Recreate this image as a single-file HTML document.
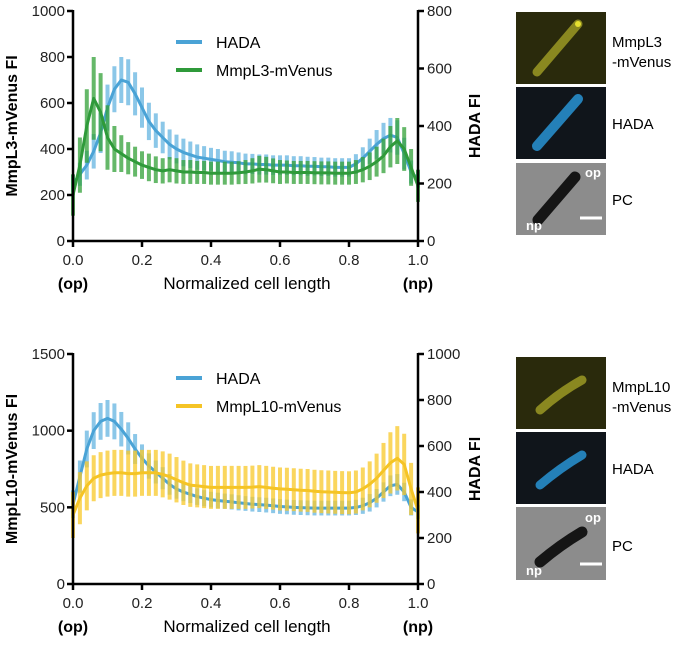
<!DOCTYPE html>
<html><head><meta charset="utf-8"><style>
body{margin:0;background:#fff;font-family:"Liberation Sans",sans-serif}
svg text{font-family:"Liberation Sans",sans-serif}
</style></head><body>
<svg id="fig" width="685" height="642" viewBox="0 0 685 642" xmlns="http://www.w3.org/2000/svg">
<g>
<rect x="516" y="12" width="90" height="72" fill="#2a2a0c"/>
<line x1="537" y1="72" x2="578" y2="24" stroke="#8a8820" stroke-width="9" stroke-linecap="round"/>
<circle cx="578" cy="24" r="3" fill="#e6e030"/>
<rect x="516" y="87" width="90" height="72" fill="#10151b"/>
<line x1="537" y1="146" x2="578" y2="99" stroke="#2480b8" stroke-width="10" stroke-linecap="round"/>
<rect x="516" y="163" width="90" height="72" fill="#8c8c8c"/>
<line x1="538" y1="220" x2="575" y2="177" stroke="#151515" stroke-width="11" stroke-linecap="round"/>
<text x="585" y="177" font-size="13" font-weight="bold" fill="#fff">op</text>
<text x="526" y="230" font-size="13" font-weight="bold" fill="#fff">np</text>
<line x1="580" y1="218" x2="602" y2="218" stroke="#fff" stroke-width="3"/>
<text x="612" y="47" font-size="15">MmpL3</text>
<text x="612" y="67" font-size="15">-mVenus</text>
<text x="612" y="129" font-size="15">HADA</text>
<text x="612" y="205" font-size="15">PC</text>
</g>
<g>
<rect x="516" y="357" width="90" height="72" fill="#2a2a0c"/>
<path d="M540 410 Q560 392 582 380" stroke="#8a8820" stroke-width="9" fill="none" stroke-linecap="round"/>
<rect x="516" y="432" width="90" height="72" fill="#10151b"/>
<path d="M540 485 Q560 468 582 455" stroke="#2480b8" stroke-width="9" fill="none" stroke-linecap="round"/>
<rect x="516" y="507" width="90" height="73" fill="#8c8c8c"/>
<path d="M540 562 Q560 545 582 532" stroke="#151515" stroke-width="11" fill="none" stroke-linecap="round"/>
<text x="585" y="522" font-size="13" font-weight="bold" fill="#fff">op</text>
<text x="526" y="575" font-size="13" font-weight="bold" fill="#fff">np</text>
<line x1="580" y1="564" x2="602" y2="564" stroke="#fff" stroke-width="3"/>
<text x="612" y="392" font-size="15">MmpL10</text>
<text x="612" y="412" font-size="15">-mVenus</text>
<text x="612" y="474" font-size="15">HADA</text>
<text x="612" y="551" font-size="15">PC</text>
</g>
<g id="c1"></g>
<g id="c2"></g>
</svg>
<script>
const xs = [0,.02,.04,.06,.08,.10,.12,.14,.16,.18,.20,.22,.24,.26,.28,.30,.32,.34,.36,.38,.40,.42,.44,.46,.48,.50,.52,.54,.56,.58,.60,.62,.64,.66,.68,.70,.72,.74,.76,.78,.80,.82,.84,.86,.88,.90,.92,.94,.96,.98,1.0];
const mmpl3Mean = [200,330,500,620,560,450,400,380,360,345,330,320,310,305,310,305,300,300,298,298,295,295,295,295,297,300,305,312,310,305,300,300,298,298,298,297,296,296,295,295,295,300,310,325,345,370,410,435,400,320,240];
const mmpl3Err = [90,120,160,180,170,140,100,80,70,65,60,60,58,55,55,55,52,52,50,50,50,50,50,50,50,52,55,58,56,54,52,50,50,50,50,50,50,50,50,50,50,52,55,60,65,75,90,100,95,80,70];
const hada1Mean = [200,232,264,312,376,464,528,560,552,512,464,416,384,360,336,320,308,300,292,288,284,280,276,274,272,268,268,266,266,264,264,264,262,262,260,260,258,258,256,256,256,268,288,312,336,356,368,360,304,240,216];
const hada1Err = [30,40,50,60,70,80,80,80,80,75,70,65,60,55,52,50,48,46,44,42,40,40,38,38,36,36,35,35,35,34,34,34,33,33,33,32,32,32,32,32,32,34,38,44,50,55,60,60,55,40,30];
const mmpl10Mean = [450,560,640,690,710,720,725,725,720,720,725,725,725,715,700,680,660,645,640,635,630,630,630,630,630,630,632,635,630,625,620,618,615,612,610,605,602,600,598,596,595,600,620,650,690,740,790,820,780,620,480];
const mmpl10Err = [150,170,160,150,150,150,150,150,150,150,150,150,150,150,150,148,145,142,140,140,140,140,140,140,140,140,140,140,140,140,140,140,140,140,140,140,140,140,140,140,140,140,140,150,160,180,200,210,200,170,150];
const hada2Mean = [347,467,587,667,707,720,707,673,633,587,547,513,487,460,433,413,400,390,380,373,367,363,360,357,353,350,347,345,343,340,337,335,333,332,331,330,330,330,330,330,330,333,340,353,373,400,427,433,400,333,313];
const hada2Err = [60,70,80,80,80,80,78,75,70,65,60,55,50,48,45,42,40,38,36,35,34,34,33,33,33,32,32,32,32,32,32,32,32,32,32,32,32,32,32,32,32,33,35,38,40,42,45,45,40,35,30];
const xTicks = ["0.0","0.2","0.4","0.6","0.8","1.0"];
const leftTicks1 = [0,200,400,600,800,1000];
const rightTicks1 = [0,200,400,600,800];
const leftTicks2 = [0,500,1000,1500];
const rightTicks2 = [0,200,400,600,800,1000];

const NS="http://www.w3.org/2000/svg";
function mk(p,tag,a){const e=document.createElementNS(NS,tag);for(const k in a)e.setAttribute(k,a[k]);p.appendChild(e);return e;}

function chart(g,cfg){
  const x0=73,x1=418,yT=cfg.top,yB=cfg.bottom;
  const X=v=>x0+v*(x1-x0);
  const YL=v=>yB-v/cfg.lmax*(yB-yT);
  const YR=v=>yB-v/cfg.rmax*(yB-yT);
  function series(mean,err,Y,col,ecol,name){
    const sg=mk(g,'g',{});
    
    
    xs.forEach((xv,i)=>{
      const b=mk(sg,'line',{x1:X(xv),x2:X(xv),y1:Y(mean[i]-err[i]),y2:Y(mean[i]+err[i]),stroke:ecol,'stroke-width':4});
      
      
    });
    const d=xs.map((xv,i)=>(i?'L':'M')+X(xv).toFixed(1)+' '+Y(mean[i]).toFixed(1)).join(' ');
    const l=mk(sg,'path',{d:d,fill:'none',stroke:col,'stroke-width':3,'stroke-linejoin':'round'});
    
    
  }
  series(cfg.hMean,cfg.hErr,YR,'#4aa3d6','rgba(90,175,222,0.7)','hada');
  series(cfg.mMean,cfg.mErr,YL,cfg.col,cfg.ecol,cfg.key);
  const ax=mk(g,'g',{stroke:'#000','stroke-width':2.5});
  
  
  mk(ax,'line',{x1:x0,y1:yT-1,x2:x0,y2:yB+1});
  mk(ax,'line',{x1:x1,y1:yT-1,x2:x1,y2:yB+1});
  mk(ax,'line',{x1:x0,y1:yB,x2:x1,y2:yB});
  xTicks.forEach((t,i)=>{const xv=X(i/(xTicks.length-1));
    mk(ax,'line',{x1:xv,x2:xv,y1:yB,y2:yB+6});
    const tx=mk(g,'text',{x:xv,y:yB+24,'font-size':15,'text-anchor':'middle',fill:'#222'});tx.textContent=t;
    });
  cfg.lt.forEach(t=>{const y=YL(t);mk(ax,'line',{x1:x0-6,x2:x0,y1:y,y2:y});
    const tx=mk(g,'text',{x:x0-8,y:y+5,'font-size':15,'text-anchor':'end',fill:'#222'});tx.textContent=t;
    });
  cfg.rt.forEach(t=>{const y=YR(t);mk(ax,'line',{x1:x1,x2:x1+6,y1:y,y2:y});
    const tx=mk(g,'text',{x:x1+9,y:y+5,'font-size':15,fill:'#222'});tx.textContent=t;
    });
  const cy=(yT+yB)/2;
  let t=mk(g,'text',{x:0,y:0,'font-size':16,'font-weight':'bold','text-anchor':'middle',transform:`translate(17,${cy}) rotate(-90)`});t.textContent=cfg.lt_title;
  
  t=mk(g,'text',{x:0,y:0,'font-size':16,'font-weight':'bold','text-anchor':'middle',transform:`translate(480,${cy}) rotate(-90)`});t.textContent='HADA FI';
  
  t=mk(g,'text',{x:247,y:yB+48,'font-size':17,'text-anchor':'middle'});t.textContent='Normalized cell length';
  
  t=mk(g,'text',{x:73,y:yB+48,'font-size':16,'font-weight':'bold','text-anchor':'middle'});t.textContent='(op)';
  
  t=mk(g,'text',{x:418,y:yB+48,'font-size':16,'font-weight':'bold','text-anchor':'middle'});t.textContent='(np)';
  
  const lg=mk(g,'g',{});
  
  const ly=cfg.legY;
  mk(lg,'line',{x1:176,x2:202,y1:ly,y2:ly,stroke:'#4aa3d6','stroke-width':4});
  t=mk(lg,'text',{x:216,y:ly+6,'font-size':16});t.textContent='HADA';
  
  mk(lg,'line',{x1:176,x2:202,y1:ly+28,y2:ly+28,stroke:cfg.col,'stroke-width':4});
  t=mk(lg,'text',{x:216,y:ly+34,'font-size':16});t.textContent=cfg.label;
  
}
chart(document.getElementById('c1'),{top:11,bottom:241,lmax:1000,rmax:800,lt:leftTicks1,rt:rightTicks1,
  mMean:mmpl3Mean,mErr:mmpl3Err,hMean:hada1Mean,hErr:hada1Err,col:'#2f9a3a',ecol:'rgba(50,160,55,0.75)',
  key:'mmpl3',label:'MmpL3-mVenus',lt_title:'MmpL3-mVenus FI',legY:42});
chart(document.getElementById('c2'),{top:354,bottom:584,lmax:1500,rmax:1000,lt:leftTicks2,rt:rightTicks2,
  mMean:mmpl10Mean,mErr:mmpl10Err,hMean:hada2Mean,hErr:hada2Err,col:'#f5c425',ecol:'rgba(248,200,40,0.75)',
  key:'mmpl10',label:'MmpL10-mVenus',lt_title:'MmpL10-mVenus FI',legY:378});
</script>
</body></html>
